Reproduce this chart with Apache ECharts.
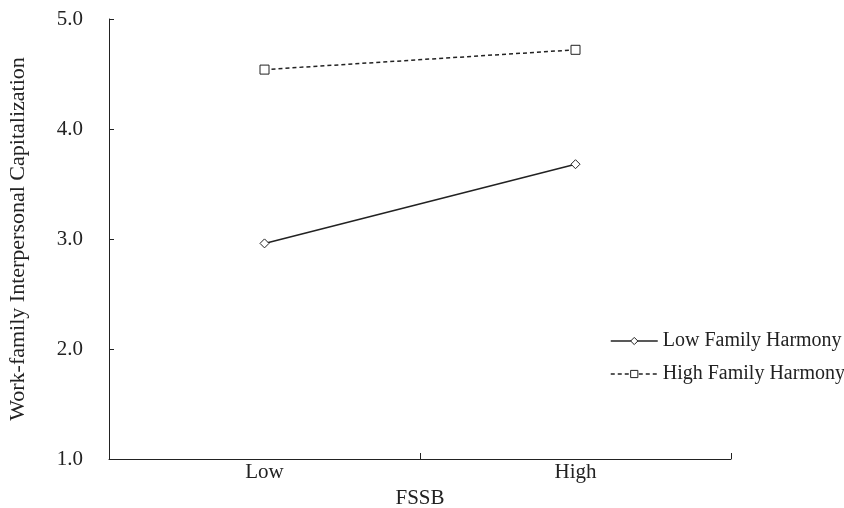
<!DOCTYPE html>
<html>
<head>
<meta charset="utf-8">
<script src="https://cdn.jsdelivr.net/npm/echarts@6/dist/echarts.min.js"></script>
<style>html,body{margin:0;padding:0;background:#fff}#c{width:844px;height:508px}</style>
</head>
<body>
<div id="c"></div>
<script>
var categories = ['Low', 'High'];
var lowHarmony = [2.96, 3.68];
var highHarmony = [4.54, 4.72];
var seriesNames = ['Low Family Harmony', 'High Family Harmony'];
var yTicks = [1, 2, 3, 4, 5];

var font = 'Liberation Serif';
var ink = '#222';
var chart = echarts.init(document.getElementById('c'));
chart.setOption({
  backgroundColor: '#fff',
  animation: false,
  textStyle: {fontFamily: font, color: ink},
  grid: {left: 109, right: 113, top: 19, bottom: 49, containLabel: false, outerBoundsMode: 'none'},
  legend: {
    orient: 'vertical',
    left: 610,
    top: 331,
    padding: 0,
    itemWidth: 47,
    itemHeight: 9,
    itemGap: 13,
    textStyle: {fontFamily: font, fontSize: 20, color: ink},
    itemStyle: {borderWidth: 1},
    lineStyle: {width: 1.5},
    data: seriesNames
  },
  xAxis: {
    type: 'category',
    data: categories,
    boundaryGap: true,
    name: 'FSSB',
    nameLocation: 'middle',
    nameGap: 27,
    nameTextStyle: {fontFamily: font, fontSize: 21, color: ink},
    axisLine: {lineStyle: {color: ink, width: 1}},
    axisTick: {show: true, inside: true, length: 6, lineStyle: {color: ink, width: 1}},
    axisLabel: {fontFamily: font, fontSize: 21, color: ink, margin: 3},
    splitLine: {show: false}
  },
  yAxis: {
    type: 'value',
    min: yTicks[0],
    max: yTicks[yTicks.length - 1],
    interval: 1,
    name: 'Work-family Interpersonal Capitalization',
    nameLocation: 'middle',
    nameGap: 80,
    nameTextStyle: {fontFamily: font, fontSize: 22, color: ink},
    axisLine: {show: true, lineStyle: {color: ink, width: 1}},
    axisTick: {show: true, inside: true, length: 5, lineStyle: {color: ink}},
    axisLabel: {fontFamily: font, fontSize: 21, color: ink, margin: 26,
      formatter: function (v) { return v.toFixed(1); }},
    splitLine: {show: false}
  },
  series: [
    {
      name: seriesNames[0],
      type: 'line',
      data: lowHarmony,
      symbol: 'diamond',
      symbolSize: 9,
      showAllSymbol: true,
      lineStyle: {color: ink, width: 1.5, type: 'solid'},
      itemStyle: {color: '#fff', borderColor: ink, borderWidth: 1}
    },
    {
      name: seriesNames[1],
      type: 'line',
      data: highHarmony,
      symbol: 'rect',
      symbolSize: 9,
      showAllSymbol: true,
      lineStyle: {color: ink, width: 1.5, type: [4, 3]},
      itemStyle: {color: '#fff', borderColor: ink, borderWidth: 1}
    }
  ]
});
</script>
</body>
</html>
